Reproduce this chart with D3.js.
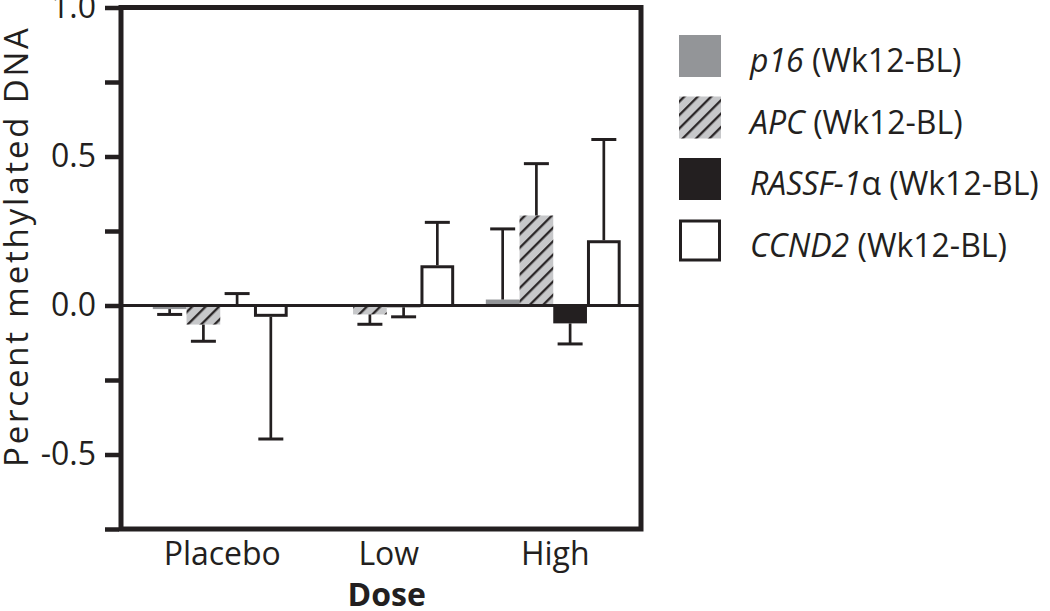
<!DOCTYPE html>
<html>
<head>
<meta charset="utf-8">
<script src="https://cdn.jsdelivr.net/npm/d3@7"></script>
<style>
  body { margin: 0; background: #fff; }
  svg { display: block; }
  text { font-family: "Open Sans", sans-serif; fill: #231f20; }
</style>
</head>
<body>
<svg id="chart" width="1050" height="611"></svg>
<script>
// ---- data ----
const doses = ["Placebo", "Low", "High"];
const genes = ["p16", "APC", "RASSF-1", "CCND2"];
const geneLabelSuffix = ["", "", "\u03B1", ""];
const p16Values   = [-0.012, 0.000, 0.020];
const p16Errors   = [0.018, 0.000, 0.237];
const apcValues   = [-0.064, -0.030, 0.302];
const apcErrors   = [0.056, 0.033, 0.174];
const rassfValues = [0.004, -0.006, -0.060];
const rassfErrors = [0.036, 0.032, 0.069];
const ccnd2Values = [-0.038, 0.135, 0.219];
const ccnd2Errors = [0.410, 0.144, 0.338];
const yTickValues = [-0.75, -0.5, -0.25, 0, 0.25, 0.5, 0.75, 1.0];
const yTickLabels = ["", "-0.5", "", "0.0", "", "0.5", "", "1.0"];

const seriesValues = [p16Values, apcValues, rassfValues, ccnd2Values];
const seriesErrors = [p16Errors, apcErrors, rassfErrors, ccnd2Errors];

(function () {
const INK = "#231f20";
const fills = ["#939598", "url(#hatch)", INK, "#ffffff"];
const strokes = [null, null, null, INK];

const svg = d3.select("#chart");

// hatch pattern
const defs = svg.append("defs");
const pat = defs.append("pattern")
  .attr("id", "hatch").attr("patternUnits", "userSpaceOnUse")
  .attr("width", 9.5).attr("height", 9.5)
  .attr("patternTransform", "rotate(45)");
pat.append("rect").attr("width", 9.5).attr("height", 9.5).attr("fill", "#c7c8ca");
pat.append("line").attr("x1", 1.2).attr("x2", 1.2).attr("y1", 0).attr("y2", 9.5)
  .attr("stroke", INK).attr("stroke-width", 2.2);

// scales
const pLeft = 121, pRight = 641, pTop = 7.5, pBottom = 529;
const y = d3.scaleLinear().domain([-0.75, 1.0]).range([pBottom, pTop]);
const x0 = d3.scaleBand().domain(doses).range([137, 636.5]).paddingInner(0.19).paddingOuter(0.095);
const x1 = d3.scaleBand().domain(genes).range([0, x0.bandwidth()]).padding(0);

// bars
const data = [];
doses.forEach((d, i) => genes.forEach((gname, j) => data.push({
  dose: d, gene: gname, j: j, v: seriesValues[j][i], e: seriesErrors[j][i]
})));

const g = svg.append("g");
data.forEach(d => {
  const bx = x0(d.dose) + x1(d.gene);
  const bw = x1.bandwidth();
  const y0 = y(0), yv = y(d.v);
  const sw = strokes[d.j] ? 3 : 0;
  const ytop = Math.min(y0, yv), h = Math.abs(yv - y0);
  if (h > 0) {
    g.append("rect")
      .attr("x", bx + sw / 2).attr("y", ytop + (d.v >= 0 ? sw / 2 : 0))
      .attr("width", bw - sw).attr("height", Math.max(0, h - sw / 2))
      .attr("fill", fills[d.j])
      .attr("stroke", strokes[d.j] || "none")
      .attr("stroke-width", sw);
  }
  if (d.e > 0) {
    const cx = bx + bw / 2;
    const yEnd = d.v >= 0 ? y(d.v + d.e) : y(d.v - d.e);
    g.append("line").attr("x1", cx).attr("x2", cx).attr("y1", yv).attr("y2", yEnd)
      .attr("stroke", INK).attr("stroke-width", 2.7);
    g.append("line").attr("x1", cx - 12.5).attr("x2", cx + 12.5).attr("y1", yEnd).attr("y2", yEnd)
      .attr("stroke", INK).attr("stroke-width", 3);
  }
});

// zero line
svg.append("line").attr("x1", pLeft).attr("x2", pRight).attr("y1", y(0)).attr("y2", y(0))
  .attr("stroke", INK).attr("stroke-width", 3.2);

// frame
svg.append("rect").attr("x", pLeft).attr("y", pTop).attr("width", pRight - pLeft).attr("height", pBottom - pTop)
  .attr("fill", "none").attr("stroke", INK).attr("stroke-width", 5);

// y axis
const yAxis = d3.axisLeft(y).tickValues(yTickValues).tickSize(14).tickPadding(9)
  .tickFormat((d, i) => yTickLabels[i]);
const ya = svg.append("g").attr("transform", `translate(${pLeft - 2},0)`).call(yAxis);
ya.select(".domain").remove();
ya.selectAll(".tick line").attr("stroke", INK).attr("stroke-width", 4.5);
ya.selectAll(".tick text").attr("font-size", 32).attr("font-family", "Open Sans").attr("fill", INK);

// x labels
doses.forEach(d => {
  svg.append("text").attr("x", x0(d) + x0.bandwidth() / 2 + 2).attr("y", 565)
    .attr("text-anchor", "middle").attr("font-size", 32).text(d);
});
svg.append("text").attr("x", x0("Low") + x0.bandwidth() / 2).attr("y", 606)
  .attr("text-anchor", "middle").attr("font-size", 32).attr("font-weight", "bold").text("Dose");

// y title
svg.append("text").attr("transform", "translate(28,247.5) rotate(-90)")
  .attr("text-anchor", "middle").attr("font-size", 33)
  .attr("textLength", 439).attr("lengthAdjust", "spacing")
  .text("Percent methylated DNA");

// legend
const legY = [56, 117.5, 179, 240.5];
genes.forEach((gn, j) => {
  const cy = legY[j];
  const sw = strokes[j] ? 3 : 0;
  svg.append("rect").attr("x", 679 + sw / 2).attr("y", cy - 21 + sw / 2)
    .attr("width", 42 - sw).attr("height", 42 - sw)
    .attr("fill", fills[j]).attr("stroke", strokes[j] || "none").attr("stroke-width", sw);
  const t = svg.append("text").attr("x", 750).attr("y", cy + 16).attr("font-size", 32);
  t.append("tspan").attr("font-style", "italic").text(gn);
  if (geneLabelSuffix[j]) t.append("tspan").text(geneLabelSuffix[j]);
  t.append("tspan").text(" (Wk12-BL)");
});
})();
</script>
</body>
</html>
